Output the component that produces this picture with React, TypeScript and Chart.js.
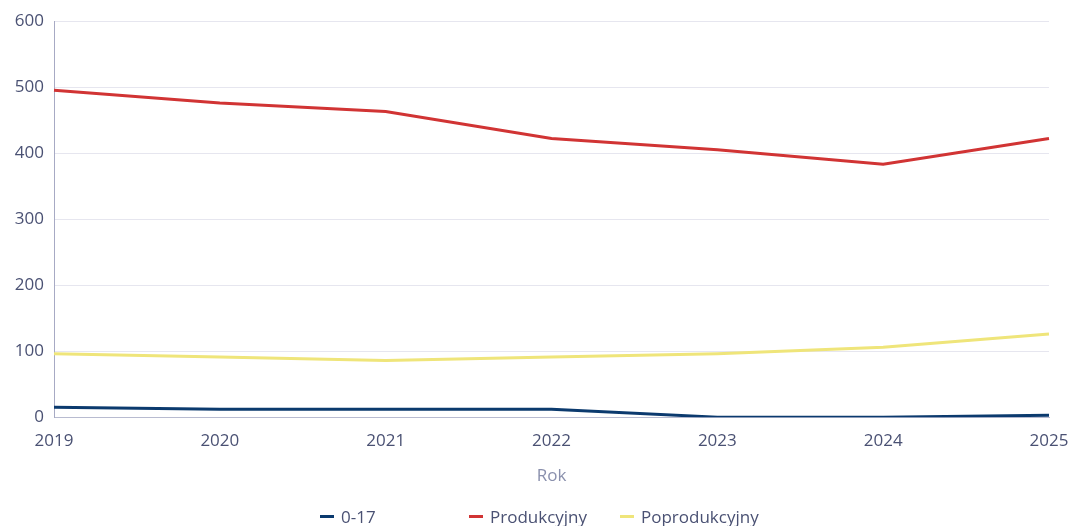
import React, { useEffect, useRef } from "react";
import { Chart, registerables } from "chart.js";

Chart.register(...registerables);

const years = ["2019", "2020", "2021", "2022", "2023", "2024", "2025"];
const youth = [15, 12, 12, 12, 0, 0, 3];
const working = [495, 476, 463, 422, 405, 383, 422];
const retired = [96, 91, 86, 91, 96, 106, 126];

const seriesNames = ["0-17", "Produkcyjny", "Poprodukcyjny"];
const seriesColors = ["#0b3a6e", "#d13434", "#efe57a"];

const FONT = "'Open Sans', sans-serif";
const TICK = "#4a5173";

export default function App() {
  const ref = useRef<HTMLCanvasElement | null>(null);
  useEffect(() => {
    if (!ref.current) return;
    const chart = new Chart(ref.current, {
      type: "line",
      data: {
        labels: years,
        datasets: [youth, working, retired].map((d, i) => ({
          label: seriesNames[i],
          data: d,
          borderColor: seriesColors[i],
          backgroundColor: seriesColors[i],
          borderWidth: 3,
          pointRadius: 0,
          tension: 0,
        })),
      },
      options: {
        responsive: false,
        animation: false,
        layout: { padding: { top: 21, right: 19, bottom: 40, left: 0 } },
        plugins: { legend: { display: false }, tooltip: { enabled: false } },
        scales: {
          x: {
            afterFit: (s: any) => { s.paddingRight = 0; s.paddingLeft = 0; },
            grid: { display: false, drawTicks: false },
            border: { color: "#b8bbd0", width: 1 },
            ticks: { color: TICK, font: { family: FONT, size: 17 }, padding: 14, maxRotation: 0 },
            title: {
              display: true,
              text: "Rok",
              color: "#8a90ad",
              font: { family: FONT, size: 17 },
              padding: { top: 0, bottom: 0 },
            },
          },
          y: {
            min: 0,
            max: 600,
            afterFit: (s: any) => { s.width = 54; },
            grid: { color: "#e6e6ef", drawTicks: false },
            border: { color: "#a7aac4", width: 1 },
            ticks: { stepSize: 100, color: TICK, font: { family: FONT, size: 17 }, padding: 10 },
          },
        },
      },
    });
    return () => chart.destroy();
  }, []);

  const legendX = [320, 469, 620];
  return (
    <div style={{ position: "absolute", left: 0, top: 0, width: 1068, height: 526, background: "#fff" }}>
      <canvas ref={ref} width={1068} height={526} style={{ position: "absolute", left: 0, top: 0 }} />
      {seriesNames.map((n, i) => (
        <div
          key={n}
          style={{
            position: "absolute",
            left: legendX[i],
            top: 504,
            height: 24,
            display: "flex",
            alignItems: "center",
            fontFamily: FONT,
            fontSize: 17,
            color: TICK,
            whiteSpace: "nowrap",
          }}
        >
          <span style={{ display: "inline-block", width: 14, height: 3, background: seriesColors[i], marginRight: 7 }} />
          {n}
        </div>
      ))}
    </div>
  );
}
